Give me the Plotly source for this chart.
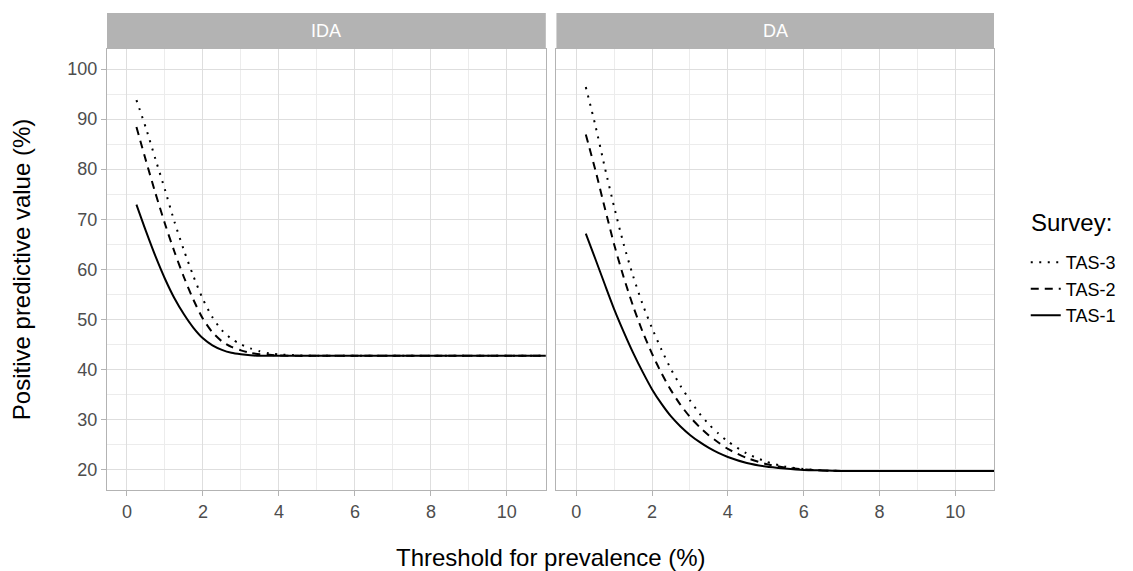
import plotly.graph_objects as go

# ---------------- data ----------------
threshold = [0.25, 0.5, 0.75, 1.0, 1.25, 1.5, 1.75, 2.0, 2.25, 2.5, 2.75, 3.0, 3.25,
             3.5, 3.75, 4.0, 4.5, 5.0, 5.5, 6.0, 6.5, 7.0, 8.0, 9.0, 10.0, 11.0, 12.0]

ida_tas3 = [93.8, 88.2, 82.0, 75.9, 69.5, 63.8, 58.6, 54.0, 50.4, 47.8, 46.1, 45.0, 44.2,
            43.6, 43.2, 43.0, 42.8, 42.7, 42.7, 42.7, 42.7, 42.7, 42.7, 42.7, 42.7, 42.7, 42.7]
ida_tas2 = [88.4, 81.7, 75.2, 69.1, 63.5, 58.4, 53.9, 50.1, 47.4, 45.6, 44.5, 43.8, 43.3,
            43.0, 42.9, 42.8, 42.7, 42.7, 42.7, 42.7, 42.7, 42.7, 42.7, 42.7, 42.7, 42.7, 42.7]
ida_tas1 = [72.9, 67.6, 62.6, 58.1, 54.2, 51.0, 48.3, 46.2, 44.8, 43.9, 43.3, 43.0, 42.8,
            42.7, 42.7, 42.7, 42.7, 42.7, 42.7, 42.7, 42.7, 42.7, 42.7, 42.7, 42.7, 42.7, 42.7]

da_tas3 = [96.4, 88.8, 80.4, 72.4, 65.0, 58.6, 53.0, 48.2, 43.9, 40.0, 36.7, 33.8, 31.2,
           29.0, 27.2, 25.6, 23.2, 21.6, 20.6, 20.1, 19.8, 19.7, 19.7, 19.7, 19.7, 19.7, 19.7]
da_tas2 = [86.9, 79.9, 72.3, 64.9, 58.4, 52.6, 47.5, 43.1, 39.2, 35.8, 32.9, 30.5, 28.5,
           26.8, 25.4, 24.1, 22.3, 21.1, 20.4, 20.0, 19.8, 19.7, 19.7, 19.7, 19.7, 19.7, 19.7]
da_tas1 = [67.1, 62.1, 57.0, 52.0, 47.5, 43.3, 39.5, 36.0, 33.1, 30.6, 28.6, 26.9, 25.5,
           24.3, 23.3, 22.5, 21.3, 20.6, 20.2, 19.9, 19.8, 19.7, 19.7, 19.7, 19.7, 19.7, 19.7]

panels = ["IDA", "DA"]
surveys = ["TAS-3", "TAS-2", "TAS-1"]
values = {
    "IDA": {"TAS-3": ida_tas3, "TAS-2": ida_tas2, "TAS-1": ida_tas1},
    "DA": {"TAS-3": da_tas3, "TAS-2": da_tas2, "TAS-1": da_tas1},
}
x_ticks = [0, 2, 4, 6, 8, 10]
y_ticks = [20, 30, 40, 50, 60, 70, 80, 90, 100]

# ---------------- styling ----------------
FONT = "Liberation Sans, Arial, sans-serif"
dash_of = {"TAS-3": "2px,6.5px", "TAS-2": "8px,6px", "TAS-1": "solid"}
GRID = "#dedede"
MINOR = "#ececec"
BORDER = "#b3b3b3"
TICKTXT = "#4d4d4d"

# page body has an 8px margin: compensate so the chart lands where the reference has it
W, H = 1125, 563
ML, MT = 99, 41
PW, PH = 894, 440.7
MR = W - ML - PW
MB = H - MT - PH

fig = go.Figure()
for pi, panel in enumerate(panels):
    xa = "x" if pi == 0 else "x2"
    ya = "y" if pi == 0 else "y2"
    for s in surveys:
        fig.add_trace(go.Scatter(
            x=threshold, y=values[panel][s], mode="lines", name=s,
            legendgroup=s, showlegend=(pi == 0), xaxis=xa, yaxis=ya,
            line=dict(color="black", width=2, dash=dash_of[s],
                      shape="spline", smoothing=0.7),
            hoverinfo="skip",
        ))

xcommon = dict(
    range=[-0.525, 11.025], tickvals=x_ticks, ticktext=[str(v) for v in x_ticks],
    showgrid=True, gridcolor=GRID, gridwidth=1, zeroline=False,
    minor=dict(tickvals=[1, 3, 5, 7, 9, 11], showgrid=True, gridcolor=MINOR,
               gridwidth=0.7, ticks=""),
    showline=True, mirror=True, linecolor=BORDER, linewidth=1,
    ticks="outside", ticklen=5, tickcolor=BORDER, tickwidth=1,
    tickfont=dict(family=FONT, size=18, color=TICKTXT),
)
ycommon = dict(
    range=[15.9, 104], tickvals=y_ticks,
    showgrid=True, gridcolor=GRID, gridwidth=1, zeroline=False,
    minor=dict(tickvals=[25, 35, 45, 55, 65, 75, 85, 95], showgrid=True,
               gridcolor=MINOR, gridwidth=0.7, ticks=""),
    showline=True, mirror=True, linecolor=BORDER, linewidth=1,
    tickfont=dict(family=FONT, size=18, color=TICKTXT),
)

def px_x(p):  # viewport pixel -> paper x
    return (p - 8 - ML) / PW

def px_y(p):  # viewport pixel -> paper y
    return (MT + PH - (p - 8)) / PH

fig.update_layout(
    width=W, height=H, autosize=False,
    margin=dict(l=ML, r=MR, t=MT, b=MB, pad=0),
    paper_bgcolor="white", plot_bgcolor="white",
    font=dict(family=FONT, color="black"),
    xaxis=dict(domain=[0, 0.4947], anchor="y", **xcommon),
    xaxis2=dict(domain=[0.5067, 1], anchor="y2", **xcommon),
    yaxis=dict(domain=[0, 1], anchor="x", ticks="outside", ticklen=5,
               tickcolor=BORDER, tickwidth=1, **ycommon),
    yaxis2=dict(domain=[0, 1], anchor="x2", matches="y", showticklabels=False,
                ticks="", **ycommon),
    legend=dict(
        font=dict(family=FONT, size=18, color="black"),
        x=px_x(1033), xanchor="left", y=px_y(244), yanchor="top",
        traceorder="normal", tracegroupgap=8, itemwidth=30,
        bgcolor="rgba(0,0,0,0)",
    ),
    showlegend=True,
)

strip_h = 36 / PH
for pi, panel in enumerate(panels):
    xref = "x domain" if pi == 0 else "x2 domain"
    fig.add_shape(type="rect", xref=xref, yref="paper", x0=0, x1=1,
                  y0=1, y1=1 + strip_h, fillcolor=BORDER, line=dict(width=0))
    fig.add_annotation(text=panel, xref=xref, yref="paper", x=0.5,
                       y=1 + strip_h / 2, showarrow=False, xanchor="center",
                       yanchor="middle",
                       font=dict(family=FONT, size=18, color="white"))

fig.add_annotation(text="Survey:", xref="paper", yref="paper",
                   x=px_x(1036), y=px_y(222), showarrow=False, xanchor="left",
                   yanchor="middle", font=dict(family=FONT, size=24, color="black"))
fig.add_annotation(text="Threshold for prevalence (%)", xref="paper", yref="paper",
                   x=0.5, y=px_y(557), showarrow=False, xanchor="center", yanchor="middle",
                   font=dict(family=FONT, size=24, color="black"))
fig.add_annotation(text="Positive predictive value (%)", xref="paper", yref="paper",
                   x=px_x(21), y=0.5, showarrow=False, xanchor="center", yanchor="middle",
                   textangle=-90, font=dict(family=FONT, size=24, color="black"))

fig.write_html("out.html")
